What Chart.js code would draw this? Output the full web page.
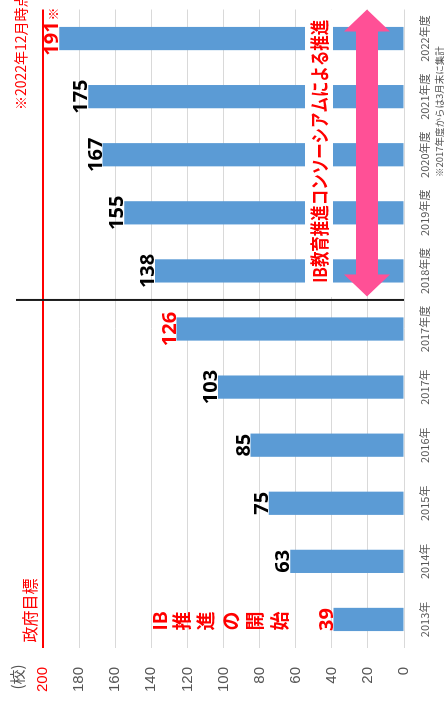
<!DOCTYPE html>
<html><head><meta charset="utf-8">
<style>
html,body{margin:0;padding:0;background:#fff;overflow:hidden;width:444px;height:709px;}
#wrap{position:absolute;left:0;top:0;width:709px;height:444px;transform-origin:0 0;transform:translateY(709px) rotate(-90deg);background:#fff;}
canvas{display:block;}
</style>
<script src="https://cdn.jsdelivr.net/npm/chart.js@4/dist/chart.umd.min.js"></script>
</head><body><div id="wrap"><canvas id="c" width="709" height="444"></canvas></div>
<script>
const categories = ['2013年','2014年','2015年','2016年','2017年','2017年度','2018年度','2019年度','2020年度','2021年度','2022年度'];
const schoolCounts = [39, 63, 75, 85, 103, 126, 138, 155, 167, 175, 191];
const highlightedCategories = ['2013年','2017年度','2022年度'];
const labelSuffix = ['', '', '', '', '', '', '', '', '', '', '※'];
const valueTicks = [0, 20, 40, 60, 80, 100, 120, 140, 160, 180, 200];
const targetValue = 200;
const unitLabel = '(校)';
const targetLabel = '政府目標';
const asOfNote = '※2022年12月時点';
const consortiumLabel = 'IB教育推進コンソーシアムによる推進';
const startLabel = ['IB','推','進','の','開','始'];
const footnote = '※2017年度からは3月末に集計';

const RED = '#FF0000', GRAY = '#555555', CJK = '"Noto Sans CJK JP", "Noto Sans", sans-serif';

const annot = {
  id: 'annot',
  afterDatasetsDraw(chart) {
    const ctx = chart.ctx, meta = chart.getDatasetMeta(0);
    ctx.save();
    meta.data.forEach((bar, i) => {
      const txt = String(schoolCounts[i]);
      ctx.font = 'bold 20px "Open Sans", Lato, "Liberation Sans", sans-serif';
      ctx.fillStyle = highlightedCategories.includes(categories[i]) ? RED : '#000';
      ctx.textAlign = 'center'; ctx.textBaseline = 'alphabetic';
      ctx.fillText(txt, bar.x, bar.y - 1, 36);
      if (labelSuffix[i]) {
        const w = Math.min(ctx.measureText(txt).width, 36);
        ctx.font = '13px ' + CJK;
        ctx.textAlign = 'left';
        ctx.fillText(labelSuffix[i], bar.x + w / 2 + 1, bar.y - 1);
      }
    });
    ctx.restore();
  },
  afterDraw(chart) {
    const {ctx, chartArea: ca, scales: {x: xs, y: ys}} = chart;
    ctx.save();
    // divider between 2017年 and 2017年度
    const xDiv = xs.getPixelForValue(5.5);
    ctx.strokeStyle = '#1a1a1a'; ctx.lineWidth = 2;
    ctx.beginPath(); ctx.moveTo(xDiv, 16); ctx.lineTo(xDiv, ca.bottom); ctx.stroke();

    // white band + consortium text
    const bx0 = xDiv + 3;
    ctx.fillStyle = '#fff';
    ctx.fillRect(bx0, 305, ca.right - bx0, 28);
    ctx.fillStyle = RED;
    ctx.font = 'bold 19px ' + CJK;
    ctx.textAlign = 'center'; ctx.textBaseline = 'middle';
    ctx.fillText(consortiumLabel, (bx0 + ca.right) / 2 + 2, 320, 263);

    // pink double arrow
    const ax0 = xDiv + 3.5, ax1 = ca.right, ay = 367, hl = 22, hw = 23, sw = 11;
    ctx.fillStyle = '#FF5096';
    ctx.beginPath();
    ctx.moveTo(ax0, ay);
    ctx.lineTo(ax0 + hl, ay - hw); ctx.lineTo(ax0 + hl, ay - sw);
    ctx.lineTo(ax1 - hl, ay - sw); ctx.lineTo(ax1 - hl, ay - hw);
    ctx.lineTo(ax1, ay);
    ctx.lineTo(ax1 - hl, ay + hw); ctx.lineTo(ax1 - hl, ay + sw);
    ctx.lineTo(ax0 + hl, ay + sw); ctx.lineTo(ax0 + hl, ay + hw);
    ctx.closePath(); ctx.fill();

    // unit label
    ctx.fillStyle = GRAY;
    ctx.font = '15px ' + CJK;
    ctx.textAlign = 'center'; ctx.textBaseline = 'middle';
    ctx.fillText(unitLabel, 32, 17.5);

    // target label
    const yT = ys.getPixelForValue(targetValue);
    ctx.fillStyle = RED;
    ctx.font = '16px ' + CJK;
    ctx.textAlign = 'left';
    ctx.fillText(targetLabel, ca.left + 6, yT - 13);

    // as-of note
    ctx.font = '14px ' + CJK;
    ctx.fillText(asOfNote, 599, 20.5);

    // vertical "IB推進の開始"
    const cx = xs.getPixelForValue(0) - 1.5;
    ctx.font = 'bold 19px ' + CJK;
    ctx.textAlign = 'center'; ctx.textBaseline = 'middle';
    let yy = 153;
    startLabel.forEach((ch, i) => {
      const h = i === 0 ? 14 : 17;
      ctx.fillText(ch, cx, yy + h / 2);
      yy += h + (i === 0 ? 6 : 7.5);
    });

    // footnote
    ctx.fillStyle = GRAY;
    ctx.font = '9.5px ' + CJK;
    ctx.textAlign = 'left';
    ctx.fillText(footnote, 532, 439);
    ctx.restore();
  }
};

new Chart(document.getElementById('c'), {
  type: 'bar',
  data: {
    labels: categories,
    datasets: [{data: schoolCounts, backgroundColor: '#5B9BD5', barPercentage: 0.4, categoryPercentage: 1}]
  },
  options: {
    responsive: false, animation: false,
    layout: {padding: {left: 0, right: 9.5, top: 43, bottom: 0}},
    plugins: {legend: {display: false}, tooltip: {enabled: false}},
    scales: {
      x: {
        grid: {display: false}, border: {display: false},
        ticks: {color: GRAY, font: {family: CJK, size: 11}, padding: 6, maxRotation: 0, autoSkip: false},
        afterFit(s) { s.height = 40; }
      },
      y: {
        min: 0, max: 200,
        afterBuildTicks(s) { s.ticks = valueTicks.map(v => ({value: v})); },
        ticks: {
          padding: 18.5,
          color: c => c.tick.value === targetValue ? RED : GRAY,
          font: {family: '"Liberation Sans", Arial, sans-serif', size: 15}
        },
        grid: {
          drawTicks: false,
          color: c => c.tick && c.tick.value === targetValue ? RED : '#D9D9D9',
          lineWidth: c => c.tick && c.tick.value === targetValue ? 2 : 1
        },
        border: {display: false},
        afterFit(s) { s.width = 60.5; }
      }
    }
  },
  plugins: [annot]
});
</script>
</body></html>
